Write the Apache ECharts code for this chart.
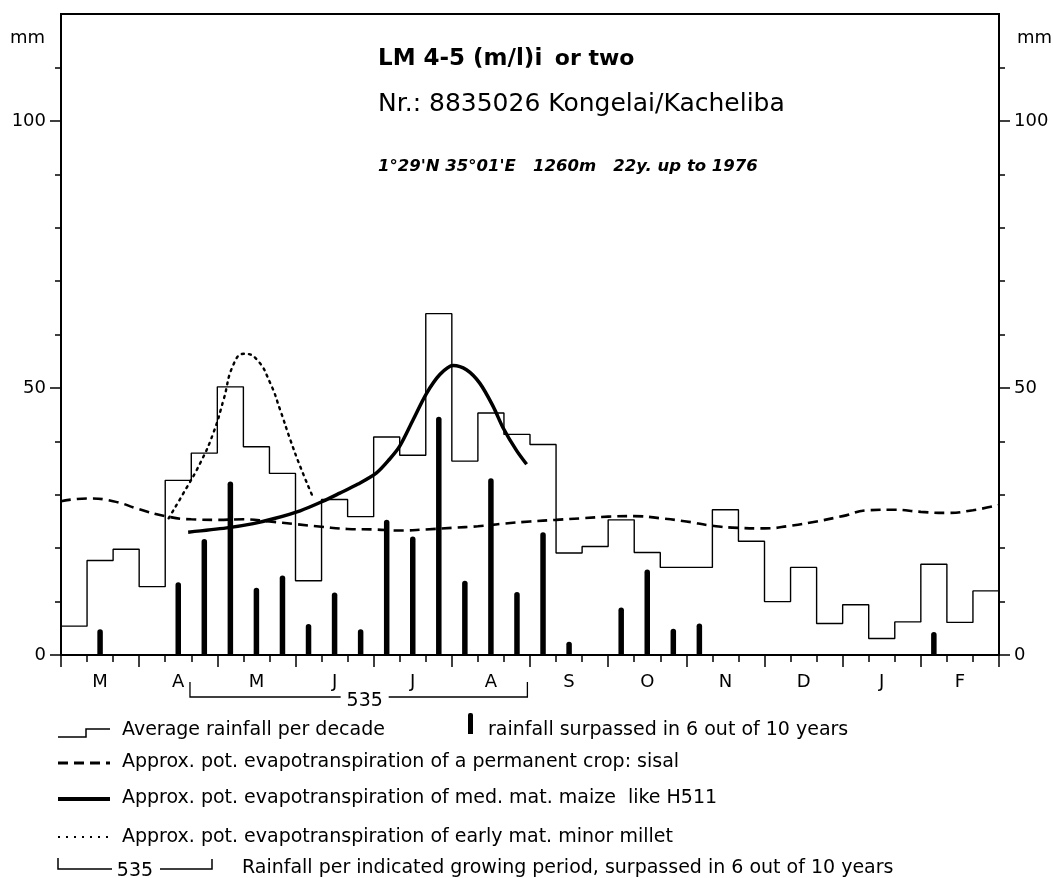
<!DOCTYPE html>
<html><head><meta charset="utf-8">
<script src="https://cdn.jsdelivr.net/npm/echarts@6/dist/echarts.min.js"></script>
<style>html,body{margin:0;padding:0;background:#fff}#c{width:1053px;height:878px}</style>
</head><body><div id="c"></div>
<script>
// ---- data ----
const months = ['M','A','M','J','J','A','S','O','N','D','J','F'];
// average rainfall per decade (36 decades, March .. February)
const avgRain = [5.4, 17.7, 19.8, 12.8, 32.7, 37.8, 50.2, 39.0, 34.0, 13.9,
                 29.1, 25.9, 40.8, 37.4, 63.9, 36.3, 45.3, 41.3, 39.4, 19.1,
                 20.3, 25.3, 19.2, 16.4, 16.4, 27.2, 21.3, 10.0, 16.4, 5.9,
                 9.4, 3.1, 6.2, 17.0, 6.1, 12.0];
// rainfall surpassed in 6 out of 10 years (per decade)
const rain6of10 = [null, 4.8, null, null, 13.6, 21.7, 32.5, 12.6, 14.9, 5.8,
                   11.7, 4.8, 25.3, 22.2, 44.6, 13.9, 33.1, 11.8, 23.0, 2.5,
                   null, 8.9, 16.0, 4.9, 5.9, null, null, null, null, null,
                   null, null, null, 4.3, null, null];
// ET sisal at decade boundaries 0..36
const sisalX = [0,1,2,3,4,5,6,7,8,9,10,11,12,13,14,15,16,17,18,19,20,21,22,23,24,25,26,27,28,29,30,31,32,33,34,35,36];
const sisalET = [28.8, 29.3, 28.8, 27.3, 26.0, 25.4, 25.3, 25.4, 25.0, 24.5,
                 24.0, 23.6, 23.5, 23.3, 23.5, 23.8, 24.1, 24.6, 25.0, 25.3,
                 25.6, 25.9, 26.0, 25.6, 25.0, 24.2, 23.8, 23.7, 24.2, 25.0,
                 26.0, 27.1, 27.2, 26.8, 26.6, 27.1, 28.1];
// ET maize H511
const maizeX = [4.88, 6.36, 7.38, 8.15, 9.18, 10.06, 10.7, 11.4, 12.11, 12.6, 13.0, 13.51, 14.02, 14.54, 15.05, 15.56, 16.07, 16.58, 16.97, 17.48, 17.87];
const maizeET = [23.0, 23.8, 24.6, 25.5, 27.0, 28.8, 30.3, 32.0, 34.1, 36.6, 39.1, 44.0, 48.9, 52.5, 54.2, 53.4, 50.9, 46.6, 42.5, 38.3, 35.7];
// ET early millet
const milletX = [4.13, 4.7, 5.34, 5.85, 6.24, 6.62, 7.03, 7.52, 8.03, 8.41, 8.8, 9.18, 9.63];
const milletET = [25.6, 30.3, 35.9, 41.6, 47.8, 54.4, 56.4, 55.3, 50.9, 45.9, 40.3, 35.3, 30.0];
// growing period and its rainfall
const growingPeriod = [4.95, 17.9];
const periodRain = 535;
// y ticks
const yLabelTicks = [0, 50, 100];
const yMinorTicks = [10, 20, 30, 40, 60, 70, 80, 90, 110];

// ---- build ----
const FONT = 'DejaVu Sans';
const LF = '19px "DejaVu Sans"';
const stepData = avgRain.map((v, i) => [i, v]).concat([[avgRain.length, avgRain[avgRain.length - 1]]]);
const barData = rain6of10.map((v, i) => [i + 0.5, v]);
const sisalData = sisalX.map((x, i) => [x, sisalET[i]]);
const maizeData = maizeX.map((x, i) => [x, maizeET[i]]);
const milletData = milletX.map((x, i) => [x, milletET[i]]);

const blk = '#000';
function yAx(pos, ticks, len, labels) {
  return {
    type: 'value', position: pos, min: 0, max: 120, interval: 10,
    axisLine: { show: true, lineStyle: { color: blk, width: 2 } },
    axisTick: { show: true, inside: false, length: len, customValues: ticks, lineStyle: { color: blk, width: 1.5 } },
    axisLabel: labels ? { show: true, customValues: labels, color: blk, fontSize: 18, fontFamily: FONT, margin: 15 } : { show: false },
    splitLine: { show: false }
  };
}

const chart = echarts.init(document.getElementById('c'));
const option = {
  animation: false,
  backgroundColor: '#fff',
  textStyle: { fontFamily: FONT, color: blk },
  grid: { left: 61, right: 54, top: 14, bottom: 223, show: true, borderColor: blk, borderWidth: 2, backgroundColor: 'transparent' },
  title: [
    { text: '{b|LM 4-5 (m/l)i}  {n|or two}', left: 378, top: 48, padding: 0,
      textStyle: { rich: { b: { fontSize: 23, fontWeight: 'bold', fontFamily: FONT, color: blk }, n: { fontSize: 22, fontFamily: FONT, color: blk } } } },
    { text: 'Nr.: 8835026 Kongelai/Kacheliba', left: 378, top: 92, padding: 0,
      textStyle: { fontSize: 25, fontWeight: 'normal', fontFamily: FONT, color: blk } },
    { text: "1°29'N 35°01'E   1260m   22y. up to 1976", left: 378, top: 158, padding: 0,
      textStyle: { fontSize: 16.5, fontWeight: 'bold', fontStyle: 'italic', fontFamily: FONT, color: blk } }
  ],
  xAxis: [
    { type: 'value', min: 0, max: 36, interval: 3, position: 'bottom',
      axisLine: { show: true, lineStyle: { color: blk, width: 2 } },
      axisTick: { show: true, length: 12, lineStyle: { color: blk, width: 1.5 } },
      minorTick: { show: true, splitNumber: 3, length: 7, lineStyle: { color: blk, width: 1.5 } },
      axisLabel: { show: false }, splitLine: { show: false } },
    { type: 'category', data: months, position: 'bottom', boundaryGap: true,
      axisLine: { show: false }, axisTick: { show: false },
      axisLabel: { show: true, color: blk, fontSize: 18, fontFamily: FONT, margin: 18 },
      splitLine: { show: false } }
  ],
  yAxis: [
    yAx('left', yMinorTicks, 6, null),
    yAx('left', yLabelTicks, 11, yLabelTicks),
    yAx('right', yMinorTicks, 6, null),
    yAx('right', yLabelTicks, 11, yLabelTicks)
  ],
  series: [
    { name: 'Average rainfall per decade', type: 'line', step: 'end', data: stepData,
      symbol: 'none', lineStyle: { color: blk, width: 1.4 }, z: 3 },
    { name: 'rainfall surpassed in 6 out of 10 years', type: 'bar', data: barData, barWidth: 5.5,
      itemStyle: { color: blk, borderRadius: [3, 3, 0, 0] }, z: 4 },
    { name: 'sisal', type: 'line', data: sisalData, smooth: true, symbol: 'none',
      lineStyle: { color: blk, width: 2.6, type: [10, 6] }, z: 5 },
    { name: 'maize', type: 'line', data: maizeData, smooth: 0.3, symbol: 'none',
      lineStyle: { color: blk, width: 3.5 }, z: 6 },
    { name: 'millet', type: 'line', data: milletData, smooth: true, symbol: 'none',
      lineStyle: { color: blk, width: 2.4, type: [2, 5], cap: 'round' }, z: 6 },
    { name: 'growing period', type: 'custom', clip: false, silent: true,
      data: [[growingPeriod[0], growingPeriod[1], periodRain]],
      encode: { x: [0, 1] },
      renderItem: function (params, api) {
        const p1 = api.coord([api.value(0), 0]);
        const p2 = api.coord([api.value(1), 0]);
        const yTop = p1[1] + 27, yBot = p1[1] + 42;
        const mid = (p1[0] + p2[0]) / 2 + 6;
        const ls = { stroke: blk, lineWidth: 1.3, fill: null };
        return { type: 'group', children: [
          { type: 'polyline', shape: { points: [[p1[0], yTop], [p1[0], yBot], [mid - 24, yBot]] }, style: ls },
          { type: 'text', style: { text: String(api.value(2)), x: mid, y: yBot + 4, textAlign: 'center', textVerticalAlign: 'middle', font: '19px "DejaVu Sans"', fill: blk } },
          { type: 'polyline', shape: { points: [[mid + 24, yBot], [p2[0], yBot], [p2[0], yTop]] }, style: ls }
        ] };
      }, z: 5 }
  ],
  graphic: [
    { type: 'text', style: { text: 'mm', x: 45, y: 38, textAlign: 'right', textVerticalAlign: 'middle', font: '18px "DejaVu Sans"', fill: blk } },
    { type: 'text', style: { text: 'mm', x: 1017, y: 38, textAlign: 'left', textVerticalAlign: 'middle', font: '18px "DejaVu Sans"', fill: blk } },
    // legend line 1
    { type: 'polyline', shape: { points: [[58, 737], [86, 737], [86, 729], [110, 729]] }, style: { stroke: blk, lineWidth: 1.5, fill: null } },
    { type: 'text', style: { text: 'Average rainfall per decade', x: 122, y: 730, textVerticalAlign: 'middle', font: LF, fill: blk } },
    { type: 'rect', shape: { x: 468, y: 713, width: 5, height: 21, r: [2, 2, 0, 0] }, style: { fill: blk } },
    { type: 'text', style: { text: 'rainfall surpassed in 6 out of 10 years', x: 488, y: 730, textVerticalAlign: 'middle', font: LF, fill: blk } },
    // legend line 2
    { type: 'line', shape: { x1: 58, y1: 763, x2: 110, y2: 763 }, style: { stroke: blk, lineWidth: 3, lineDash: [10, 6] } },
    { type: 'text', style: { text: 'Approx. pot. evapotranspiration of a permanent crop: sisal', x: 122, y: 762, textVerticalAlign: 'middle', font: LF, fill: blk } },
    // legend line 3
    { type: 'line', shape: { x1: 58, y1: 799, x2: 110, y2: 799 }, style: { stroke: blk, lineWidth: 4 } },
    { type: 'text', style: { text: 'Approx. pot. evapotranspiration of med. mat. maize  like H511', x: 122, y: 798, textVerticalAlign: 'middle', font: LF, fill: blk } },
    // legend line 4
    { type: 'line', shape: { x1: 58, y1: 837, x2: 110, y2: 837 }, style: { stroke: blk, lineWidth: 2, lineDash: [2, 6] } },
    { type: 'text', style: { text: 'Approx. pot. evapotranspiration of early mat. minor millet', x: 122, y: 837, textVerticalAlign: 'middle', font: LF, fill: blk } },
    // legend line 5
    { type: 'polyline', shape: { points: [[58, 858], [58, 869], [112, 869]] }, style: { stroke: blk, lineWidth: 1.5, fill: null } },
    { type: 'text', style: { text: '535', x: 135, y: 871, textAlign: 'center', textVerticalAlign: 'middle', font: LF, fill: blk } },
    { type: 'polyline', shape: { points: [[160, 869], [212, 869], [212, 859]] }, style: { stroke: blk, lineWidth: 1.5, fill: null } },
    { type: 'text', style: { text: 'Rainfall per indicated growing period, surpassed in 6 out of 10 years', x: 242, y: 868, textVerticalAlign: 'middle', font: LF, fill: blk } }
  ]
};
chart.setOption(option);
</script></body></html>
